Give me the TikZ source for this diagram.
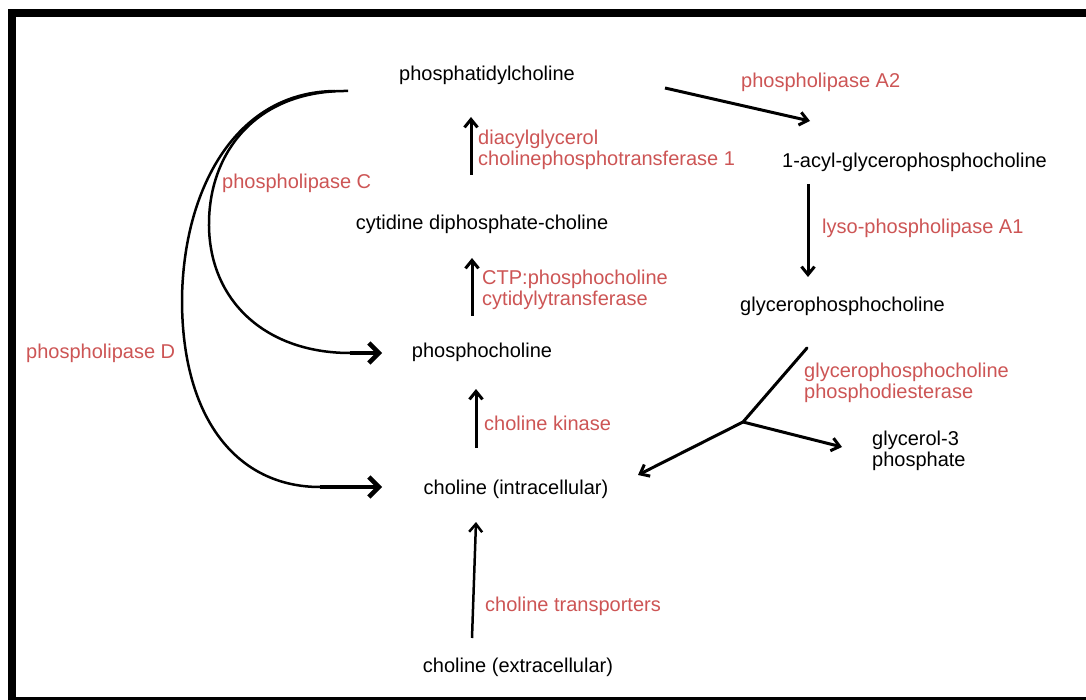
\documentclass[tikz,border=0pt]{standalone}
\usepackage{fontspec}
\setmainfont{Liberation Sans}
\usetikzlibrary{arrows.meta}
\definecolor{enz}{RGB}{205,85,85}
\begin{document}
\begin{tikzpicture}[x=1pt,y=-1pt,
  met/.style={font=\fontsize{20}{21.5}\selectfont, inner sep=0pt, text=black, align=left},
  enzl/.style={font=\fontsize{20}{21.5}\selectfont, inner sep=0pt, text=enz, anchor=west, align=left},
  arr/.style={line width=3pt, -{Straight Barb[length=8pt,width=13pt]}},
  curv/.style={line width=2.5pt},
  thickarr/.style={line width=4.5pt, -{Straight Barb[length=10pt,width=20pt]}}]
\useasboundingbox (0,0) rectangle (1086,700);
\clip (0,0) rectangle (1086,700);
\fill[white] (0,0) rectangle (1086,700);
\draw[line width=8pt] (12,13) rectangle (1120,701);

% metabolites
\node[met] (pc) at (487,75) {phosphatidylcholine};
\node[met, anchor=west] (acyl) at (782,162) {1-acyl-glycerophosphocholine};
\node[met, anchor=west] (gpc) at (740,306) {glycerophosphocholine};
\node[met] (cdp) at (482,224) {cytidine diphosphate-choline};
\node[met] (phc) at (482,352) {phosphocholine};
\node[met] (chin) at (516,489) {choline (intracellular)};
\node[met] (chex) at (518,667) {choline (extracellular)};
\node[met, anchor=west] (g3p) at (872,451) {glycerol-3\\phosphate};

% enzymes
\node[enzl] (pla2) at (741,82) {phospholipase A2};
\node[enzl] (lyso) at (822,228) {lyso-phospholipase A1};
\node[enzl] (gpcpd) at (804,383) {glycerophosphocholine\\phosphodiesterase};
\node[enzl] (dag) at (478,150) {diacylglycerol\\cholinephosphotransferase 1};
\node[enzl] (ctp) at (482,290) {CTP:phosphocholine\\cytidylytransferase};
\node[enzl] (ck) at (484,423) {choline kinase};
\node[enzl] (ct) at (485,606) {choline transporters};
\node[enzl] (plc) at (222,183) {phospholipase C};
\node[enzl] (pld) at (26,353) {phospholipase D};

% connector end points
\coordinate (pcA) at (665,88);
\coordinate (acylIn) at (810,121);
\coordinate (acylOut) at (808,184);
\coordinate (gpcIn) at (808,277);
\coordinate (gpcOut) at (807,348);
\coordinate (jn) at (743,422);
\coordinate (chinIn) at (638,475);
\coordinate (g3pIn) at (842,447);
\coordinate (cdpOut) at (471,175);
\coordinate (pcIn) at (471,117);
\coordinate (phcOut) at (472,316);
\coordinate (cdpIn) at (472,258);
\coordinate (chinOut) at (476,448);
\coordinate (phcIn) at (476,389);
\coordinate (chexOut) at (472,638);
\coordinate (chinIn2) at (476,522);
\coordinate (pcC) at (348,91);
\coordinate (pcD) at (335,91);
\coordinate (cBend) at (350,353);
\coordinate (phcIn2) at (382,353);
\coordinate (dBend) at (320,487);
\coordinate (chinIn3) at (382,487);

\draw[arr] (pcA) -- (acylIn);
\draw[arr] (acylOut) -- (gpcIn);
\draw[line width=3pt, line cap=round] (gpcOut) -- (jn);
\draw[arr] (jn) -- (chinIn);
\draw[arr] (jn) -- (g3pIn);
\draw[arr] (cdpOut) -- (pcIn);
\draw[arr] (phcOut) -- (cdpIn);
\draw[arr] (chinOut) -- (phcIn);
\draw[line width=2.5pt, -{Straight Barb[length=8pt,width=13pt]}] (chexOut) -- (chinIn2);

% phospholipase C
\draw[curv] (pcC) .. controls (258,90) and (210,150) .. (209,222)
  .. controls (208,300) and (265,353) .. (cBend);
\draw[thickarr] (cBend) -- (phcIn2);
% phospholipase D
\draw[curv] (pcD) .. controls (235,92) and (183,190) .. (182,300)
  .. controls (182,420) and (238,487) .. (dBend);
\draw[thickarr] (dBend) -- (chinIn3);
\end{tikzpicture}
\end{document}
